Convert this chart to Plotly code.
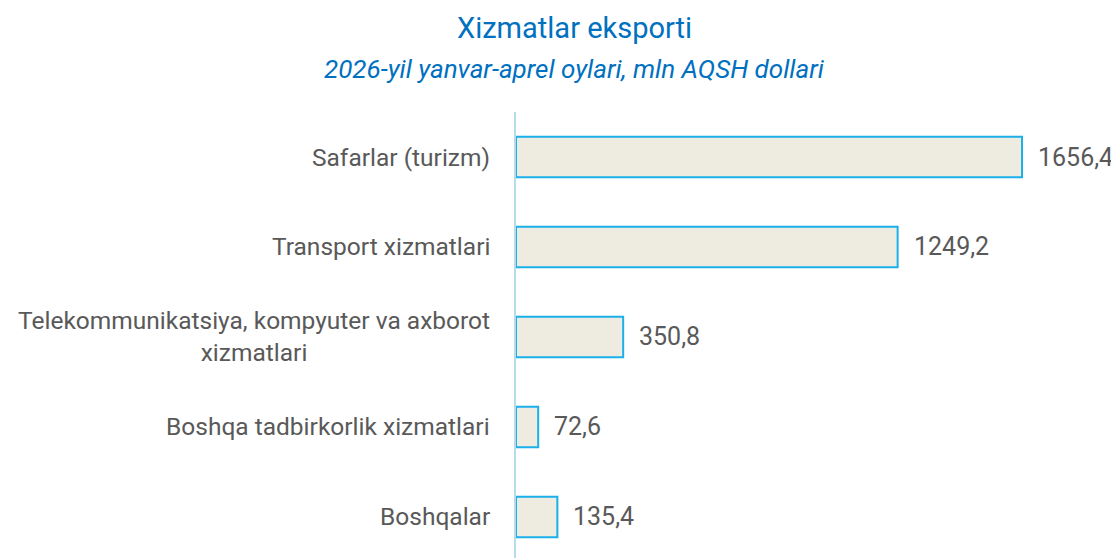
import plotly.graph_objects as go

# Ma'lumotlar
categories = [
    "Safarlar (turizm)",
    "Transport xizmatlari",
    "Telekommunikatsiya, kompyuter va axborot<br>xizmatlari",
    "Boshqa tadbirkorlik xizmatlari",
    "Boshqalar",
]
values = [1656.4, 1249.2, 350.8, 72.6, 135.4]
value_labels = ["1656,4", "1249,2", "350,8", "72,6", "135,4"]

title_text = "Xizmatlar eksporti"
subtitle_text = "2026-yil yanvar-aprel oylari, mln AQSH dollari"

FONT = "Roboto"
W, H = 1111, 550          # sahifa chetidagi 8px hisobga olingan
L, T = 508, 104
PW, PH = W - L, H - T

fig = go.Figure(data=[
    go.Bar(
        x=values,
        y=list(range(len(categories))),
        orientation="h",
        marker=dict(color="#EEEBE1", line=dict(color="#1AB0EA", width=2)),
        width=0.45,
        hoverinfo="skip",
    )
])

# Kategoriya nomlari
for i, c in enumerate(categories):
    fig.add_annotation(
        x=0, y=i, xref="x", yref="y", text=c, showarrow=False,
        xanchor="right", align="center", xshift=-24,
        font=dict(family=FONT, size=24.5, color="#595959"),
    )

# Qiymat yorliqlari
for i, (v, t) in enumerate(zip(values, value_labels)):
    fig.add_annotation(
        x=v, y=i, xref="x", yref="y", text=t, showarrow=False,
        xanchor="left", xshift=14,
        font=dict(family=FONT, size=25, color="#595959"),
    )

# Sarlavha
tx = (566 - L) / PW
fig.add_annotation(
    x=tx, y=1 + (T - 20) / PH, xref="paper", yref="paper", text=title_text,
    showarrow=False, xanchor="center", yanchor="middle",
    font=dict(family=FONT, size=29, color="#0070C0"),
)
fig.add_annotation(
    x=tx, y=1 + (T - 61) / PH, xref="paper", yref="paper",
    text="<i>" + subtitle_text + "</i>", showarrow=False,
    xanchor="center", yanchor="middle",
    font=dict(family=FONT, size=26, color="#0070C0"),
)

fig.update_layout(
    width=W, height=H,
    margin=dict(l=L, r=0, t=T, b=0),
    plot_bgcolor="white", paper_bgcolor="white",
    showlegend=False,
    xaxis=dict(range=[0, PW / 0.3055], visible=False, fixedrange=True),
    yaxis=dict(
        range=[4.456, -0.5], showticklabels=False, showgrid=False, zeroline=False,
        showline=True, linecolor="#B4DCEB", linewidth=2, ticks="",
    ),
)

fig.write_html("out.html")
